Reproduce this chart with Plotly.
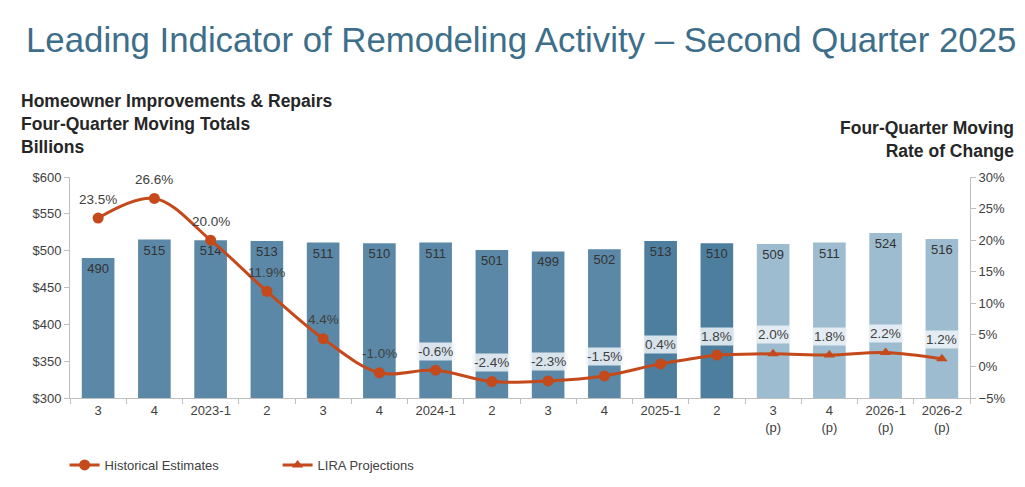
import plotly.graph_objects as go
from plotly.subplots import make_subplots

# quarters shown on the x axis (p = projection)
quarters = ["3", "4", "2023-1", "2", "3", "4", "2024-1", "2", "3", "4",
            "2025-1", "2", "3<br>(p)", "4<br>(p)", "2026-1<br>(p)", "2026-2<br>(p)"]
# four-quarter moving totals, billions of dollars
spending = [490, 515, 514, 513, 511, 510, 511, 501, 499, 502, 513, 510, 509, 511, 524, 516]
# four-quarter moving rate of change, percent
rate = [23.5, 26.6, 20.0, 11.9, 4.4, -1.0, -0.6, -2.4, -2.3, -1.5, 0.4, 1.8, 2.0, 1.8, 2.2, 1.2]
n_hist = 12  # first 12 quarters are historical estimates

x = list(range(len(quarters)))
bar_colors = ["#5b88a6"] * 10 + ["#4e7e9d"] * 2 + ["#9dbcd0"] * 4
line_color = "#c4491b"

fig = make_subplots(specs=[[{"secondary_y": True}]])

fig.add_trace(
    go.Bar(
        x=x,
        y=spending,
        marker=dict(color=bar_colors, line=dict(width=0)),
        text=[str(v) for v in spending],
        textposition="inside",
        insidetextanchor="end",
        textangle=0,
        textfont=dict(color="#333333", size=13, family="Liberation Sans"),
        width=0.58,
        showlegend=False,
    ),
    secondary_y=False,
)

fig.add_trace(
    go.Scatter(
        name="LIRA Projections",
        x=x[n_hist - 1:],
        y=rate[n_hist - 1:],
        mode="lines+markers",
        line=dict(color=line_color, width=3, shape="spline", smoothing=1.0),
        marker=dict(symbol="triangle-up", size=10, color=line_color,
                    line=dict(width=0)),
    ),
    secondary_y=True,
)

fig.add_trace(
    go.Scatter(
        name="Historical Estimates",
        x=x[:n_hist],
        y=rate[:n_hist],
        mode="lines+markers",
        line=dict(color=line_color, width=3, shape="spline", smoothing=1.0),
        marker=dict(symbol="circle", size=11, color=line_color),
    ),
    secondary_y=True,
)

# percent labels above the line markers
for i, r in enumerate(rate):
    fig.add_annotation(
        x=i, y=r, xref="x", yref="y2",
        text="%.1f%%" % r,
        showarrow=False,
        yshift=19,
        font=dict(size=13.5, color="#404040", family="Liberation Sans"),
        bgcolor="rgba(240,245,248,0.85)" if i >= 6 else None,
        borderpad=1,
    )

axis_font = dict(size=13, color="#404040", family="Liberation Sans")
fig.update_xaxes(
    domain=[0, 1],
    range=[-0.5, len(x) - 0.5],
    tickmode="array",
    tickvals=x,
    ticktext=quarters,
    ticks="",
    showline=True,
    linecolor="#bfbfbf",
    linewidth=1,
    showgrid=False,
    tickfont=axis_font,
    minor=dict(tickmode="array", tickvals=[i - 0.5 for i in x] + [len(x) - 0.5],
               ticks="outside", ticklen=5, tickcolor="#bfbfbf"),
)
fig.update_yaxes(
    range=[300, 600], dtick=50, tickprefix="$",
    showline=True, linecolor="#bfbfbf", ticks="outside", ticklen=5, tickcolor="#bfbfbf",
    showgrid=False, zeroline=False, tickfont=axis_font,
    secondary_y=False,
)
fig.update_yaxes(
    range=[-5, 30], dtick=5, ticksuffix="%",
    showline=True, linecolor="#bfbfbf", ticks="outside", ticklen=5, tickcolor="#bfbfbf",
    showgrid=False, zeroline=False, tickfont=axis_font,
    secondary_y=True,
)

fig.add_annotation(
    text="Leading Indicator of Remodeling Activity \u2013 Second Quarter 2025",
    xref="paper", yref="paper", x=-0.0515, y=1.624, xanchor="left", yanchor="middle",
    showarrow=False, font=dict(size=34.8, color="#3d6e8a", family="Liberation Sans"),
)
fig.add_annotation(
    text="<b>Homeowner Improvements & Repairs<br>Four-Quarter Moving Totals<br>Billions</b>",
    xref="paper", yref="paper", x=-0.057, y=1.081, xanchor="left", yanchor="bottom",
    align="left", showarrow=False,
    font=dict(size=17.5, color="#262626", family="Liberation Sans"),
)
fig.add_annotation(
    text="<b>Four-Quarter Moving<br>Rate of Change</b>",
    xref="paper", yref="paper", x=1.0513, y=1.063, xanchor="right", yanchor="bottom",
    align="right", showarrow=False,
    font=dict(size=17.5, color="#262626", family="Liberation Sans"),
)

fig.update_layout(
    width=1025,
    height=487,
    margin=dict(l=62, r=63, t=169, b=97),
    paper_bgcolor="white",
    plot_bgcolor="white",
    bargap=0.42,
    legend=dict(
        orientation="h", x=-0.006, y=-0.303, xanchor="left", yanchor="middle",
        traceorder="reversed", entrywidth=168,
        font=dict(size=13, color="#404040", family="Liberation Sans"),
    ),
)

fig.write_html("out.html")
